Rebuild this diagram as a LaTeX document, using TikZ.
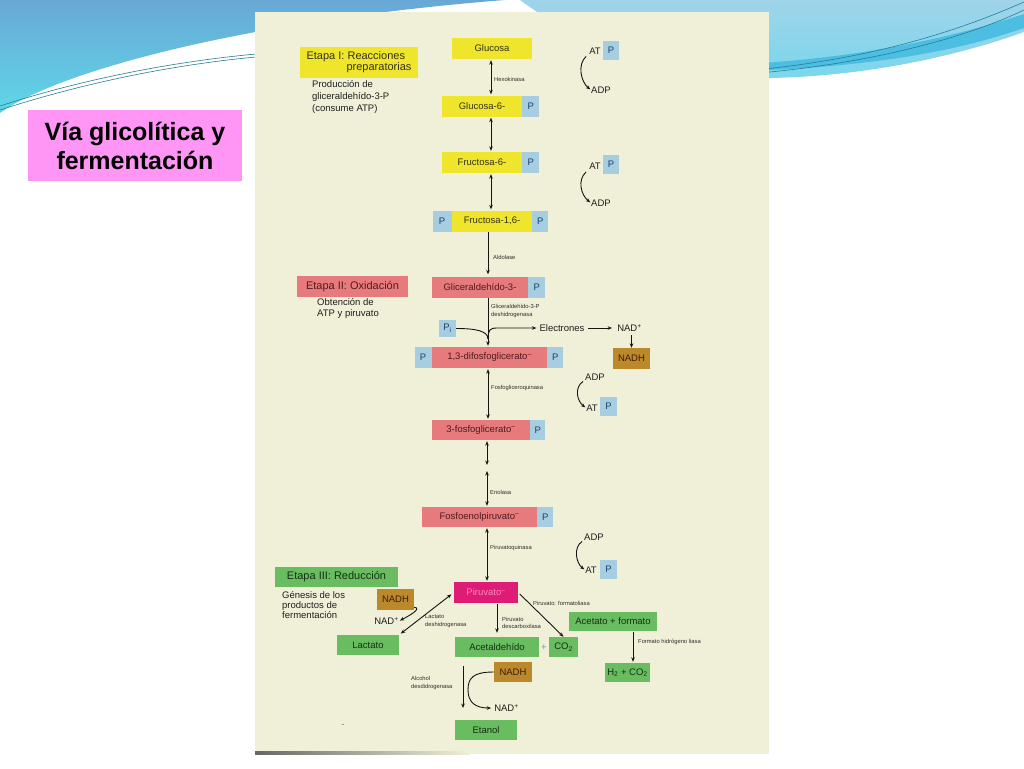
\documentclass[tikz,border=0pt]{standalone}
\usepackage{fontspec}
\setmainfont{Liberation Sans}
\usetikzlibrary{arrows.meta}
\definecolor{cream}{RGB}{240,240,216}
\definecolor{yel}{RGB}{240,229,45}
\definecolor{sal}{RGB}{230,122,124}
\definecolor{pblu}{RGB}{166,205,224}
\definecolor{brn}{RGB}{188,136,44}
\definecolor{grn}{RGB}{106,188,96}
\definecolor{mag}{RGB}{222,28,118}
\definecolor{ytxt}{RGB}{50,50,30}
\definecolor{rtxt}{RGB}{80,28,32}
\definecolor{gtxt}{RGB}{20,48,20}
\definecolor{ntxt}{RGB}{60,30,5}
\definecolor{ptxt}{RGB}{25,65,110}
\definecolor{mtxt}{RGB}{250,135,190}
\definecolor{dtxt}{RGB}{30,30,30}
\definecolor{ltxt}{RGB}{45,45,45}
\definecolor{arrc}{RGB}{20,20,20}
\definecolor{pinkb}{RGB}{255,150,245}
\definecolor{waveA}{RGB}{105,168,214}
\definecolor{waveB}{RGB}{95,215,232}
\definecolor{waveC}{RGB}{160,212,234}
\definecolor{waveD}{RGB}{120,215,236}
\definecolor{waveE}{RGB}{75,190,226}
\definecolor{wline}{RGB}{40,125,150}
\begin{document}
\begin{tikzpicture}[x=1pt,y=-1pt,
  basebox/.style={inner sep=0pt, minimum height=21pt, font=\fontsize{9.5}{11}\selectfont},
  ybox/.style={basebox, fill=yel, text=ytxt},
  rbox/.style={basebox, fill=sal, text=rtxt},
  pbox/.style={basebox, fill=pblu, text=ptxt, minimum width=17pt},
  gbox/.style={basebox, fill=grn, text=gtxt, minimum height=20pt},
  nbox/.style={basebox, fill=brn, text=ntxt, minimum height=20pt},
  mbox/.style={basebox, fill=mag, text=mtxt},
  bigtext/.style={font=\fontsize{11}{11}\selectfont},
  txt/.style={inner sep=0pt, font=\fontsize{9.5}{11}\selectfont, text=dtxt},
  desc/.style={inner sep=0pt, anchor=west, align=left, text=dtxt},
  lab/.style={inner sep=0pt, anchor=west, align=left, text=ltxt, font=\fontsize{5.8}{7.8}\selectfont},
  arr/.style={draw=arrc, line width=0.9pt, -{Stealth[length=4.5pt,width=3.6pt]}},
  darr/.style={draw=arrc, line width=0.9pt, {Stealth[length=4.5pt,width=3.6pt]}-{Stealth[length=4.5pt,width=3.6pt]}, shorten <=1pt, shorten >=1pt},
  ln/.style={draw=arrc, line width=0.9pt}
]
\useasboundingbox (0,0) rectangle (1024,768);
\fill[white] (0,0) rectangle (1024,768);
% waves
\shade[top color=waveA, bottom color=waveB] (0,0) -- (505,0) .. controls (250,20) and (60,70) .. (0,113) -- cycle;
\draw[wline, line width=0.6pt] (0,106) .. controls (80,80) and (170,62) .. (256,54);
\draw[wline, line width=0.6pt] (0,110) .. controls (80,84) and (170,65) .. (256,57);
\shade[top color=waveC, bottom color=waveD] (520,0) .. controls (580,45) and (680,80) .. (770,78) .. controls (870,76) and (960,55) .. (1024,32) -- (1024,0) -- cycle;
\fill[waveE] (700,66) .. controls (850,62) and (950,38) .. (1024,14) -- (1024,28) .. controls (960,50) and (870,70) .. (700,72) -- cycle;
\draw[wline, line width=0.6pt] (700,74) .. controls (860,66) and (960,30) .. (1024,2);
\draw[wline, line width=0.6pt] (700,77) .. controls (860,70) and (970,36) .. (1024,10);
% page
\fill[cream] (255,12) rectangle (769,754);
\shade[left color=black!60, right color=cream] (255,751.5) rectangle (470,754);

% coordinates for the main column
\coordinate (colA) at (491,0);
\coordinate (colB) at (488,0);
\coordinate (colC) at (487,0);
\coordinate (colD) at (633,0);
\coordinate (br) at (488,339);
\coordinate (mA) at (487,466);
\coordinate (mB) at (487,470);
\coordinate (alc) at (463,666);

% stage boxes
\node[ybox, bigtext, minimum width=118pt, minimum height=31pt, align=left] (et1) at (359,62.5) {Etapa I: Reacciones\\\hspace*{40pt}preparatorias};
\node[rbox, bigtext, minimum width=111pt] (et2) at (352.5,286.5) {Etapa II: Oxidación};
\node[gbox, bigtext, minimum width=123pt] (et3) at (336.5,577) {Etapa III: Reducción};
\node[desc, font=\fontsize{9.5}{11.7}\selectfont] (d1) at (312,97) {Producción de\\gliceraldehído-3-P\\(consume ATP)};
\node[desc, font=\fontsize{9.5}{11}\selectfont] (d2) at (317,308.5) {Obtención de\\ATP y piruvato};
\node[desc, font=\fontsize{9.5}{9.8}\selectfont] (d3) at (282,605) {Génesis de los\\productos de\\fermentación};

% main pathway
\node[ybox, minimum width=80pt] (glu) at (492,48.5) {Glucosa};
\node[ybox, minimum width=80pt] (g6) at (482,106) {Glucosa-6-};
\node[pbox, anchor=west] (g6p) at (g6.east) {P};
\node[ybox, minimum width=80pt] (f6) at (482,162.5) {Fructosa-6-};
\node[pbox, anchor=west] (f6p) at (f6.east) {P};
\node[ybox, minimum width=80pt] (f16) at (492,221) {Fructosa-1,6-};
\node[pbox, anchor=east, minimum width=19pt] (f16l) at (f16.west) {P};
\node[pbox, anchor=west, minimum width=16pt] (f16r) at (f16.east) {P};
\node[rbox, minimum width=96pt] (gli) at (480,287) {Gliceraldehído-3-};
\node[pbox, anchor=west] (glip) at (gli.east) {P};
\node[rbox, minimum width=115pt] (dfg) at (489.5,357.5) {1,3-difosfoglicerato\textsuperscript{--}};
\node[pbox, anchor=east] (dfgl) at (dfg.west) {P};
\node[pbox, anchor=west, minimum width=16pt] (dfgr) at (dfg.east) {P};
\node[rbox, minimum width=98pt, minimum height=20pt] (tfg) at (481,430) {3-fosfoglicerato\textsuperscript{--}};
\node[pbox, anchor=west, minimum width=15pt, minimum height=20pt] (tfgp) at (tfg.east) {P};
\node[rbox, minimum width=115pt, minimum height=20pt] (pep) at (479.5,517) {Fosfoenolpiruvato\textsuperscript{--}};
\node[pbox, anchor=west, minimum width=16pt, minimum height=20pt] (pepp) at (pep.east) {P};
\node[mbox, minimum width=64pt] (pir) at (486,592.5) {Piruvato\textsuperscript{--}};

% fermentation products
\node[gbox, minimum width=62pt] (lac) at (368,645) {Lactato};
\node[gbox, minimum width=84pt] (acd) at (497,647) {Acetaldehído};
\node[txt, text=black!45] (plus) at (544,647.5) {+};
\node[gbox, minimum width=29pt] (co2) at (563.5,647) {CO\textsubscript{2}};
\node[gbox, minimum width=88pt, minimum height=19pt] (acf) at (613,621.5) {Acetato + formato};
\node[gbox, minimum width=45pt, minimum height=19pt] (h2) at (627.5,672.5) {H\textsubscript{2} + CO\textsubscript{2}};
\node[nbox, minimum width=38pt] (nadhC) at (513,672) {NADH};
\node[gbox, minimum width=62pt] (eta) at (486,730) {Etanol};
\node[txt] (nadC) at (506.5,708) {NAD\textsuperscript{+}};
\node[nbox, minimum width=37pt, minimum height=21pt] (nadhB) at (395.5,599.5) {NADH};
\node[txt] (nadB) at (386.5,621) {NAD\textsuperscript{+}};
\node[txt, text=black!50] (dash) at (343,726) {-};

% oxidation side
\node[pbox, minimum width=17pt, minimum height=17pt] (pi) at (447.5,328.5) {P\textsubscript{i}};
\node[txt] (ele) at (562,328) {Electrones};
\node[txt] (nadA) at (629.5,328) {NAD\textsuperscript{+}};
\node[nbox, minimum width=37pt, minimum height=21pt] (nadhA) at (631.5,358.5) {NADH};

% ATP / ADP groups
\node[txt] (at1) at (595,51) {AT};
\node[pbox, minimum width=16pt, minimum height=19pt] (p1) at (611,50.5) {P};
\node[txt] (adp1) at (601,90) {ADP};
\node[txt] (at2) at (595,166.5) {AT};
\node[pbox, minimum width=16pt, minimum height=19pt] (p2) at (611,164.5) {P};
\node[txt] (adp2) at (601,203) {ADP};
\node[txt] (adp3) at (595,377) {ADP};
\node[txt] (at3) at (592,408) {AT};
\node[pbox, minimum width=17pt, minimum height=19pt] (p3) at (608.5,406.5) {P};
\node[txt] (adp4) at (594,537) {ADP};
\node[txt] (at4) at (591,570) {AT};
\node[pbox, minimum width=17pt, minimum height=19pt] (p4) at (608.5,569.5) {P};

\draw[arr, shorten >=1pt] ([xshift=-3pt,yshift=-2pt]at1.south west) .. controls +(-9,8) and +(-10,-8) .. (adp1.west);
\draw[arr, shorten >=1pt] ([xshift=-3pt,yshift=-2pt]at2.south west) .. controls +(-9,8) and +(-10,-8) .. (adp2.west);
\draw[arr, shorten >=1pt] ([xshift=-2pt,yshift=-1pt]adp3.south west) .. controls +(-9,6) and +(-9,-7) .. (at3.west);
\draw[arr, shorten >=1pt] ([xshift=-2pt,yshift=-1pt]adp4.south west) .. controls +(-9,6) and +(-9,-7) .. (at4.west);

% main column connectors
\draw[darr] (glu.south -| colA) -- (g6.north -| colA);
\draw[darr] (g6.south -| colA) -- (f6.north -| colA);
\draw[darr] (f6.south -| colA) -- (f16.north -| colA);
\draw[arr, shorten >=2pt] (f16.south -| colB) -- (gli.north -| colB);
\draw[arr, shorten >=1pt] (gli.south -| colB) -- (dfg.north -| colB);
\draw[darr] (dfg.south -| colB) -- (tfg.north -| colB);
\draw[darr] (tfg.south -| colC) -- (mA);
\draw[darr] (mB) -- (pep.north -| colC);
\draw[darr] (pep.south -| colC) -- (pir.north -| colC);

% Pi and electrons
\draw[ln] (pi.east) .. controls (476,328.5) and (488,331) .. (br);
\draw[arr, shorten >=3pt] (br) .. controls (488,330) and (490,328) .. (497,328) -- (ele.west);
\draw[arr, shorten <=3pt, shorten >=5pt] (ele.east) -- (nadA.west);
\draw[arr, shorten <=3pt] (nadA.south -| nadhA.north) -- (nadhA.north);

% pyruvate branches
\draw[darr, shorten <=3pt, shorten >=2pt] (pir.west) -- (lac.north east);
\draw[arr, shorten <=1pt, shorten >=4pt] (acd.north |- pir.south) -- (acd.north);
\draw[arr, shorten <=2pt] (pir.east) -- (co2.north);
\draw[arr, shorten <=1pt, shorten >=1pt] (acf.south -| colD) -- (h2.north -| colD);
\draw[arr, shorten >=1pt] ([yshift=3pt]nadhB.south east) .. controls +(9,1) and +(8,-4) .. (nadB.east);

% ethanol
\draw[arr] (alc) -- (alc |- nadC);
\draw[arr, shorten >=3pt] (nadhC.west) .. controls (473,672) and (468,678) .. (468,690) .. controls (468,702) and (475,708) .. (nadC.west);

% enzyme labels
\node[lab] (lhex) at (494,79) {Hexokinasa};
\node[lab] (lald) at (493,257) {Aldolase};
\node[lab] (lgdh) at (491,311) {Gliceraldehído-3-P\\deshidrogenasa};
\node[lab] (lpgk) at (491,388) {Fosfogliceroquinasa};
\node[lab] (leno) at (490,492) {Enolasa};
\node[lab] (lpk) at (490,548) {Piruvatoquinasa};
\node[lab] (lpfl) at (533,603) {Piruvato: formatoliasa};
\node[lab] (lldh) at (425,621) {Lactato\\deshidrogenasa};
\node[lab] (lpdc) at (502,623) {Piruvato\\descarboxilasa};
\node[lab] (lfhl) at (638,642) {Formato hidrógeno liasa};
\node[lab] (ladh) at (411,683) {Alcohol\\desdidrogenasa};

% title
\node[fill=pinkb, minimum width=214pt, minimum height=71pt, inner sep=0pt, align=center, font=\bfseries\fontsize{25}{29}\selectfont] (title) at (135,145.5) {Vía glicolítica y\\fermentación};
\end{tikzpicture}
\end{document}
